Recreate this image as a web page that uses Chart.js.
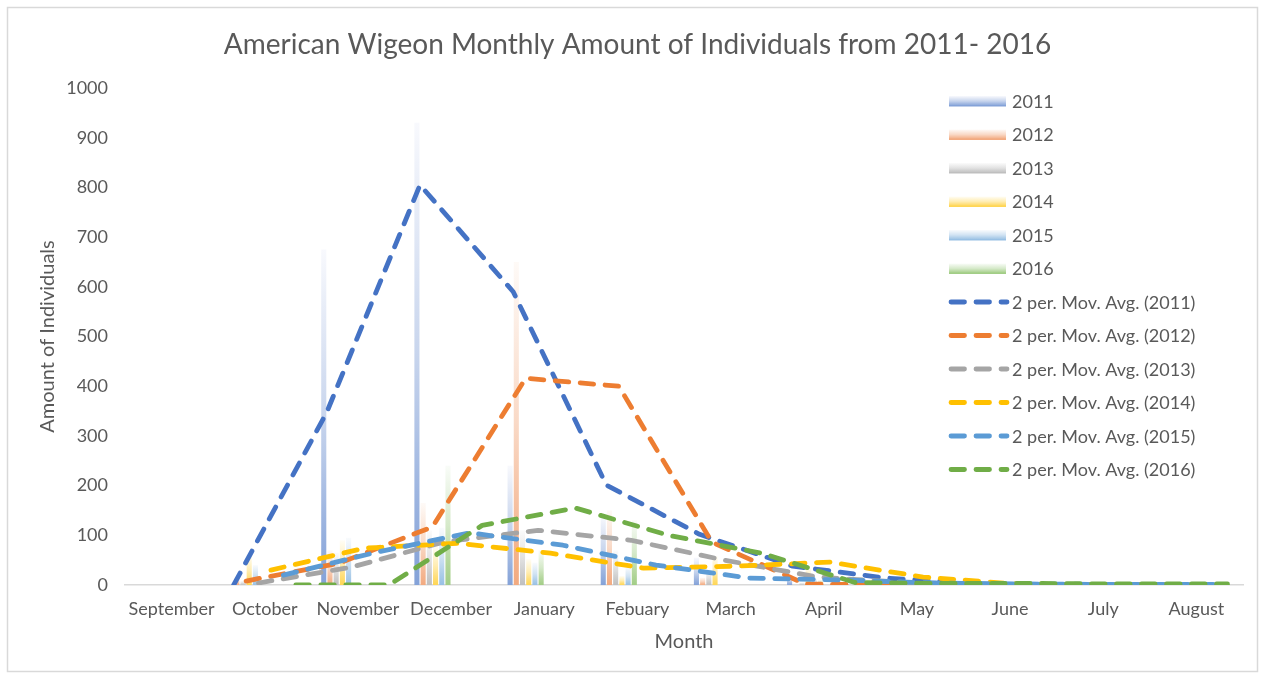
<!DOCTYPE html>
<html>
<head>
<meta charset="utf-8">
<script src="https://cdn.jsdelivr.net/npm/chart.js@4.4.1/dist/chart.umd.min.js"></script>
<style>
  html, body { margin: 0; padding: 0; background: #ffffff; }
  #wrap { position: relative; width: 1265px; height: 679px; }
</style>
</head>
<body>
<div id="wrap"><canvas id="c" width="1265" height="679"></canvas></div>
<script>
// ---- Data ----
const months = ["September", "October", "November", "December", "January", "Febuary",
                "March", "April", "May", "June", "July", "August"];
const years = ["2011", "2012", "2013", "2014", "2015", "2016"];

// Monthly counts (bars)
const counts2011 = [0, 0, 675, 930, 240, 140, 55, 18, 10, 0, 0, 0];
const counts2012 = [0, 15, 70, 165, 650, 150, 15, 0, 0, 0, 0, 0];
const counts2013 = [0, 8, 65, 110, 110, 70, 30, 5, 0, 0, 0, 0];
const counts2014 = [0, 60, 90, 78, 52, 18, 58, 34, 0, 0, 0, 0];
const counts2015 = [0, 40, 95, 115, 45, 35, 0, 12, 0, 0, 0, 0];
const counts2016 = [0, 0, 0, 240, 70, 130, 0, 10, 0, 5, 0, 5];

// 2-period moving-average trendlines
const movAvg2011 = [null, 0, 348, 805, 590, 201, 102, 38, 14, 3, 0, 0];
const movAvg2012 = [null, 8, 44, 117, 416, 400, 86, 2, 0, 0, 0, 0];
const movAvg2013 = [null, 4, 36, 87, 110, 90, 50, 16, 4, 1, 0, 0];
const movAvg2014 = [null, 30, 74, 84, 64, 34, 38, 46, 16, 2, 0, 0];
const movAvg2015 = [null, 20, 66, 105, 80, 40, 14, 10, 4, 2, 1, 1];
const movAvg2016 = [null, 0, 0, 120, 155, 100, 64, 5, 3, 3, 2, 2];

const yTicks = [0, 100, 200, 300, 400, 500, 600, 700, 800, 900, 1000];

const titleText = "American Wigeon Monthly Amount of Individuals from 2011- 2016";
const xTitle = "Month";
const yTitle = "Amount of Individuals";

// ---- Styles ----
const lineColors = ["#4472C4", "#ED7D31", "#A5A5A5", "#FFC000", "#5B9BD5", "#70AD47"];
const barColors  = ["#84A2D8", "#F2AA80", "#BFBFBF", "#FFD655", "#98C0E4", "#A2CD86"];
const FONT = "Lato, 'Open Sans', 'Liberation Sans', sans-serif";
const TEXT = "#595959";
const CAT_PCT = 0.8, BAR_PCT = 0.82;

const allCounts = [counts2011, counts2012, counts2013, counts2014, counts2015, counts2016];
const allAvg = [movAvg2011, movAvg2012, movAvg2013, movAvg2014, movAvg2015, movAvg2016];

function hexToRgb(h) {
  const n = parseInt(h.slice(1), 16);
  return [(n >> 16) & 255, (n >> 8) & 255, n & 255];
}
function tint(hex, w) {
  const [r, g, b] = hexToRgb(hex);
  const m = (c) => Math.round(c + (255 - c) * w);
  return `rgb(${m(r)},${m(g)},${m(b)})`;
}
function addStops(g, base) {
  g.addColorStop(0, base);
  g.addColorStop(0.2, tint(base, 0.2));
  g.addColorStop(0.5, tint(base, 0.55));
  g.addColorStop(1, tint(base, 0.94));
}
function barFill(base) {
  return (ctx) => {
    const chart = ctx.chart;
    if (ctx.type !== 'data' || !chart.chartArea || !chart.scales.y) return base;
    const ys = chart.scales.y;
    const y0 = ys.getPixelForValue(0);
    const y1 = ys.getPixelForValue(ctx.raw);
    if (!(y0 - y1 > 1)) return base;
    const g = chart.ctx.createLinearGradient(0, y0, 0, y1);
    addStops(g, base);
    return g;
  };
}

const datasets = [];
years.forEach((yr, k) => {
  datasets.push({
    type: 'bar',
    label: yr,
    data: allCounts[k],
    xAxisID: 'x',
    yAxisID: 'y',
    backgroundColor: barFill(barColors[k]),
    borderWidth: 0,
    categoryPercentage: CAT_PCT,
    barPercentage: BAR_PCT,
    order: 20
  });
});
years.forEach((yr, k) => {
  const off = (k - (years.length - 1) / 2) * CAT_PCT / years.length;
  const pts = [];
  allAvg[k].forEach((v, i) => { if (v !== null) pts.push({ x: i + off, y: v }); });
  datasets.push({
    type: 'line',
    label: "2 per. Mov. Avg. (" + yr + ")",
    data: pts,
    xAxisID: 'xl',
    yAxisID: 'y',
    borderColor: lineColors[k],
    borderWidth: 4.8,
    borderDash: [13.5, 11.5],
    borderCapStyle: 'round',
    borderJoinStyle: 'round',
    pointRadius: 0,
    pointHoverRadius: 0,
    tension: 0,
    fill: false,
    order: 10 - k
  });
});

const framePlugin = {
  id: 'frame',
  beforeDraw(chart) {
    const c = chart.ctx;
    c.save();
    c.fillStyle = '#ffffff';
    c.fillRect(0, 0, chart.width, chart.height);
    c.strokeStyle = '#D9D9D9';
    c.lineWidth = 1.5;
    c.strokeRect(7.5, 7.5, 1250, 664);
    c.font = `28px ${FONT}`;
    c.fillStyle = TEXT;
    c.textAlign = 'center';
    c.textBaseline = 'middle';
    c.fillText(titleText, 637.5, 44.5);
    c.restore();
  }
};

const legendPlugin = {
  id: 'customLegend',
  afterDraw(chart) {
    const c = chart.ctx;
    const x0 = 949, sw = 57, tx = 1012, y0 = 101, dy = 33.5;
    c.save();
    c.font = `18px ${FONT}`;
    c.textBaseline = 'middle';
    c.textAlign = 'left';
    chart.data.datasets.forEach((ds, i) => {
      const y = y0 + i * dy;
      if (ds.type === 'bar') {
        const base = barColors[i];
        const g = c.createLinearGradient(0, y + 5, 0, y - 5);
        addStops(g, base);
        c.fillStyle = g;
        c.fillRect(x0, y - 5, sw, 10);
        c.fillStyle = base;
        c.fillRect(x0, y + 4, sw, 1.5);
      } else {
        c.strokeStyle = ds.borderColor;
        c.lineWidth = 4.8;
        c.lineCap = 'round';
        c.setLineDash([13.5, 11.5]);
        c.beginPath();
        c.moveTo(951, y);
        c.lineTo(1007, y);
        c.stroke();
        c.setLineDash([]);
      }
      c.fillStyle = TEXT;
      c.fillText(ds.label, tx, y + 1);
    });
    c.restore();
  }
};

new Chart(document.getElementById('c'), {
  type: 'bar',
  data: { labels: months, datasets },
  plugins: [framePlugin, legendPlugin],
  options: {
    responsive: false,
    animation: false,
    devicePixelRatio: 1,
    layout: { padding: { left: 0, right: 22, top: 88, bottom: 0 } },
    plugins: {
      legend: { display: false },
      tooltip: { enabled: false },
      title: { display: false }
    },
    scales: {
      x: {
        type: 'category',
        offset: true,
        grid: { display: false, drawTicks: false },
        border: { display: true, color: '#D9D9D9', width: 1.5 },
        ticks: { color: TEXT, font: { family: FONT, size: 18 }, padding: 13, maxRotation: 0, autoSkip: false },
        title: { display: true, text: xTitle, color: TEXT, font: { family: FONT, size: 20 }, padding: { top: 0, bottom: 25 } },
        afterFit(s) { s.height = 94; }
      },
      xl: {
        type: 'linear',
        display: false,
        min: -0.5,
        max: 11.5,
        offset: false
      },
      y: {
        min: 0,
        max: 1000,
        grid: { display: false, drawTicks: false },
        border: { display: false },
        afterBuildTicks(s) { s.ticks = yTicks.map(v => ({ value: v })); },
        ticks: {
          color: TEXT,
          font: { family: FONT, size: 18 },
          padding: 17,
          callback: (v) => String(v)
        },
        title: { display: true, text: yTitle, color: TEXT, font: { family: FONT, size: 20 }, padding: { top: 36, bottom: 0 } },
        afterFit(s) { s.width = 125; }
      }
    }
  }
});
</script>
</body>
</html>
